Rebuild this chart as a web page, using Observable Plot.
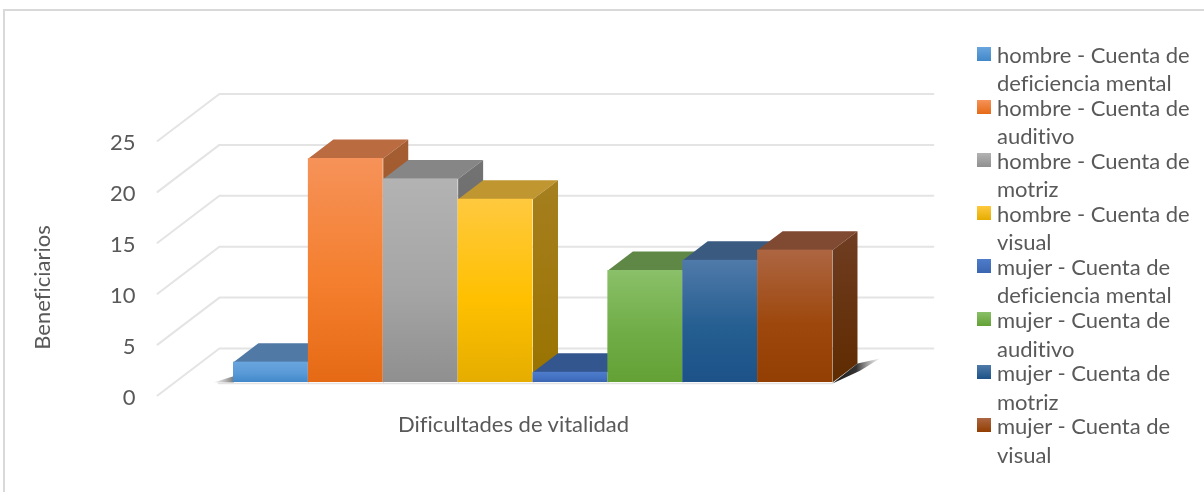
<!DOCTYPE html>
<html>
<head>
<meta charset="utf-8">
<script src="https://cdn.jsdelivr.net/npm/d3@7"></script>
<script src="https://cdn.jsdelivr.net/npm/@observablehq/plot@0.6"></script>
<style>
html,body{margin:0;padding:0;background:#fff;overflow:hidden}
#wrap{position:relative;width:1204px;height:492px;font-family:Lato,"Open Sans",sans-serif;color:#595959;filter:blur(.6px);font-variant-ligatures:none}
#border{position:absolute;left:3px;top:9px;width:1201px;height:483px;border-left:2px solid #d9d9d9;border-top:2px solid #d9d9d9;box-sizing:border-box}
#chart{position:absolute;left:0;top:0}
.lg{position:absolute;left:977px;font-size:22px;line-height:24px;width:225px}
.sw{position:absolute;left:0;top:6px;width:14px;height:14px}
.tx{position:absolute;left:20px;white-space:nowrap}
</style>
</head>
<body>
<div id="wrap"><div id="border"></div><div id="chart"></div><div id="legend"></div></div>
<script>
const seriesLine1 = ["hombre - Cuenta de","hombre - Cuenta de","hombre - Cuenta de","hombre - Cuenta de","mujer - Cuenta de","mujer - Cuenta de","mujer - Cuenta de","mujer - Cuenta de"];
const seriesLine2 = ["deficiencia mental","auditivo","motriz","visual","deficiencia mental","auditivo","motriz","visual"];
const values = [2,22,20,18,1,11,12,13];
const ticks = [0,5,10,15,20,25];
const xLabel = "Dificultades de vitalidad";
const yLabel = "Beneficiarios";
const frontTop = ["#69a5de","#f69259","#b3b3b3","#ffc93f","#4f7dcb","#8ac069","#4f7aa9","#ad6642"];
const frontMid = ["#5a9ad8","#f47f2e","#a5a5a5","#ffc000","#4472c4","#70ad47","#255e91","#9e480e"];
const frontBot = ["#4288c9","#e66a15","#8f8f8f","#e5ad00","#3b65b0","#63a135","#1c5288","#933e02"];
const topFace  = ["#5079a6","#bb6b40","#868686","#c09630","#33568f","#5f8746","#3a5a80","#804a32"];
const sideTop  = ["#4a7099","#a45e33","#737373","#a67f1f","#2c4a7c","#4f7a30","#2f4c6e","#6f3d22"];
const sideBot  = ["#2f6496","#9a4f16","#5f5f5f","#997300","#264478","#43682b","#163c5c","#5f2b00"];

// depth projection of the 3-D box, in bar widths / value units per unit of depth
const DX = 25 / 74.9, DY = 19 / 10.18;
const P = (x, d, y) => ({x: x + d * DX, y: y + d * DY});
const dFront = -0.684, dBack = 1.79, xL = -0.786, xR = 8.75;

const grid = ticks.map(v => [P(xL, dFront, v), P(xL, dBack, v), P(xR, dBack, v)]);
const poly = (pts, fill, extra = {}) =>
  Plot.line(pts, {x: "x", y: "y", fill, stroke: "none", ...extra});

const defs = () => {
  const s = d3.create("svg:defs");
  const lg = (id, stops) => {
    const g = s.append("linearGradient").attr("id", id).attr("x1", 0).attr("y1", 0).attr("x2", 0).attr("y2", 1);
    stops.forEach(([o, c, a]) => g.append("stop").attr("offset", o).attr("stop-color", c).attr("stop-opacity", a ?? 1));
  };
  values.forEach((_, i) => {
    lg("f" + i, [[0, frontTop[i]], [.55, frontMid[i]], [1, frontBot[i]]]);
    lg("s" + i, [[0, sideTop[i]], [1, sideBot[i]]]);
  });
  const h = s.append("linearGradient").attr("id", "shR");
  h.append("stop").attr("offset", 0).attr("stop-color", "#1a1a1a");
  h.append("stop").attr("offset", .5).attr("stop-color", "#333");
  h.append("stop").attr("offset", 1).attr("stop-color", "#888").attr("stop-opacity", .1);
  const l = s.append("linearGradient").attr("id", "shL");
  l.append("stop").attr("offset", 0).attr("stop-color", "#aaa").attr("stop-opacity", .1);
  l.append("stop").attr("offset", .6).attr("stop-color", "#777");
  l.append("stop").attr("offset", 1).attr("stop-color", "#222");
  return s.node();
};

const bars = values.flatMap((v, i) => [
  poly([P(i,0,v), P(i,1,v), P(i+1,1,v), P(i+1,0,v)], topFace[i]),
  poly([P(i+1,0,v), P(i+1,1,v), P(i+1,1,0), P(i+1,0,0)], `url(#s${i})`),
  Plot.rect([v], {x1: i, x2: i + 1, y1: 0, y2: d => d, fill: `url(#f${i})`, inset: 0})
]);

const n = values.length;
const chart = Plot.plot({
  width: 1204, height: 492, margin: 0,
  style: {background: "transparent", fontFamily: "Lato, 'Open Sans', sans-serif"},
  x: {type: "linear", domain: [0, n], range: [233, 832], axis: null},
  y: {type: "linear", domain: [0, 25], range: [382, 382 - 25 * 10.18], axis: null},
  marks: [
    defs,
    ...grid.map(g => Plot.line(g, {x: "x", y: "y", stroke: "#e4e4e4", strokeWidth: 2})),
    poly([P(n,0,-.1), P(n,1,0), P(n,1.9,-1.2), P(n,1.1,-.9)], "url(#shR)"),
    poly([P(0,0,0), P(0,.55,0), P(-.27,0,0)], "url(#shL)"),
    Plot.line([P(-.2,0,-.1), P(n,0,-.1)], {x: "x", y: "y", stroke: "#e3e3e3", strokeWidth: 1.5}),
    ...bars,
    Plot.text(ticks, {
      x: P(xL, dFront, 0).x, y: d => P(xL, dFront, d).y, text: d => String(d),
      textAnchor: "end", dx: -22, dy: 2, fontSize: 22, fill: "#595959"
    }),
    Plot.text([yLabel], {text: d => d, frameAnchor: "top-left", dx: 42, dy: 287, rotate: -90,
      textAnchor: "middle", lineAnchor: "middle", fontSize: 22, fill: "#595959"}),
    Plot.text([xLabel], {text: d => d, frameAnchor: "top-left", dx: 513, dy: 424,
      textAnchor: "middle", lineAnchor: "middle", fontSize: 22, fill: "#595959"})
  ]
});
document.getElementById("chart").appendChild(chart);

const legend = document.getElementById("legend");
seriesLine1.forEach((t, i) => {
  const e = document.createElement("div");
  e.className = "lg";
  e.style.top = (40.5 + 53.1 * i) + "px";
  e.innerHTML = `<div class="sw" style="background:linear-gradient(${frontTop[i]},${frontBot[i]})"></div>` +
    `<div class="tx" style="top:2px">${t}</div><div class="tx" style="top:30.5px">${seriesLine2[i]}</div>`;
  legend.appendChild(e);
});
</script>
</body>
</html>
